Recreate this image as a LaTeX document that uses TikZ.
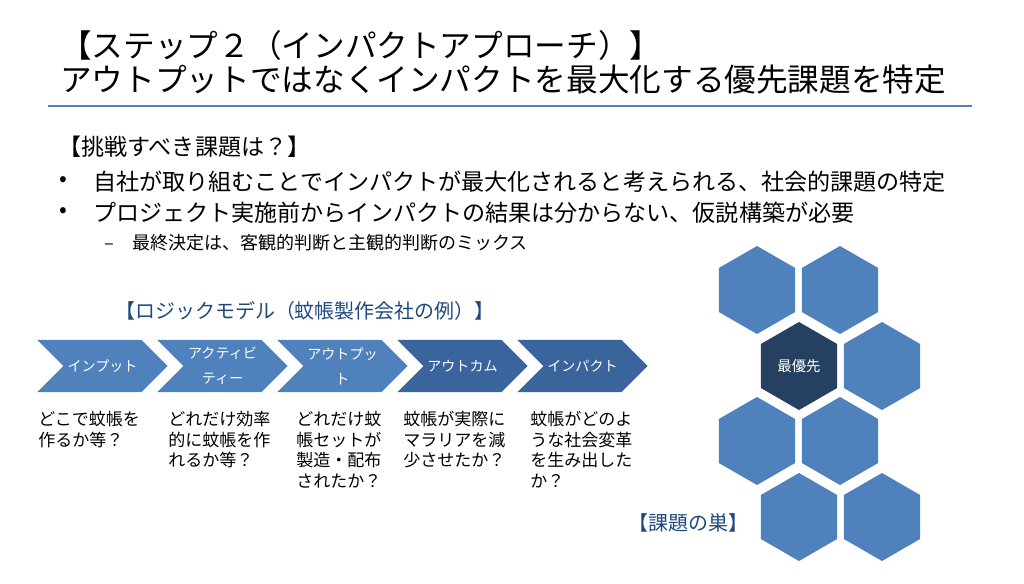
\documentclass[tikz,border=0pt]{standalone}
\usepackage{fontspec}
\setmainfont{Noto Sans CJK JP}
\usepackage{tikz}
\usetikzlibrary{shapes.geometric}
\usetikzlibrary{shapes.symbols}
\usepackage{xcolor}
\definecolor{lightblue}{HTML}{4F81BD}
\definecolor{deepblue}{HTML}{3A659C}
\definecolor{nestblue}{HTML}{254061}
\definecolor{labelblue}{HTML}{1F497D}

\tikzset{
  titletext/.style={anchor=west, inner sep=0pt, font=\fontsize{22.5}{27}\selectfont},
  bodytext/.style={anchor=west, inner sep=0pt, font=\fontsize{16.4}{20}\selectfont},
  subtext/.style={anchor=west, inner sep=0pt, font=\fontsize{12.8}{16}\selectfont},
  bluelabel/.style={anchor=west, inner sep=0pt, text=labelblue, font=\fontsize{14.2}{17}\selectfont},
  chevbox/.style={signal, signal to=east, signal from=west, signal pointer angle=90,
    fill=lightblue, draw=none, minimum width=3.25cm, minimum height=1.3cm, inner sep=0pt,
    text=white, align=center, font=\fontsize{10}{17.8}\selectfont},
  chevdark/.style={chevbox, fill=deepblue},
  hexbox/.style={regular polygon, regular polygon sides=6, shape border rotate=30,
    minimum size=2.2cm, inner sep=0pt, fill=lightblue, draw=none},
  hextop/.style={hexbox, fill=nestblue, text=white, font=\fontsize{10.2}{12}\selectfont},
  notetext/.style={anchor=north west, inner sep=0pt, align=left, font=\fontsize{12.1}{14.6}\selectfont}
}

\begin{document}
\begin{tikzpicture}[x=0.025cm,y=-0.025cm]
\useasboundingbox (0,0) rectangle (1024,584);

% title
\node[titletext] (title1) at (60,45) {【ステップ２（インパクトアプローチ）】};
\node[titletext] (title2) at (60,80) {アウトプットではなくインパクトを最大化する優先課題を特定};
\draw[lightblue, line width=1.4pt] (48,106) -- (972,106);

% bullets
\node[bodytext] (ask) at (58,147) {【挑戦すべき課題は？】};
\node[bodytext, anchor=center] (dot1) at (63,182) {•};
\node[bodytext] (point1) at (93,182) {自社が取り組むことでインパクトが最大化されると考えられる、社会的課題の特定};
\node[bodytext, anchor=center] (dot2) at (63,213) {•};
\node[bodytext] (point2) at (93,213) {プロジェクト実施前からインパクトの結果は分からない、仮説構築が必要};
\node[subtext, anchor=center] (dash1) at (109,247) {–};
\node[subtext] (point3) at (132,243) {最終決定は、客観的判断と主観的判断のミックス};

% logic model
\node[bluelabel] (logic) at (115,311) {【ロジックモデル（蚊帳製作会社の例）】};
\node[chevbox] (input) at (102.5,366) {インプット};
\node[chevbox] (activity) at (222.5,366) {アクティビ\\ティー};
\node[chevbox] (output) at (342.5,366) {アウトプッ\\ト};
\node[chevdark] (outcome) at (462.5,366) {アウトカム};
\node[chevdark] (impact) at (582.5,366) {インパクト};

\node[notetext] (note1) at (38,411) {どこで蚊帳を\\作るか等？};
\node[notetext] (note2) at (168,411) {どれだけ効率\\的に蚊帳を作\\れるか等？};
\node[notetext] (note3) at (296,411) {どれだけ蚊\\帳セットが\\製造・配布\\されたか？};
\node[notetext] (note4) at (403,411) {蚊帳が実際に\\マラリアを減\\少させたか？};
\node[notetext] (note5) at (530,411) {蚊帳がどのよ\\うな社会変革\\を生み出した\\か？};

% nest of issues
\node[hexbox] (hexa) at (757,290) {};
\node[hexbox] (hexb) at (840,290) {};
\node[hextop] (hexc) at (799,366) {最優先};
\node[hexbox] (hexd) at (882,366) {};
\node[hexbox] (hexe) at (757,441) {};
\node[hexbox] (hexf) at (840,441) {};
\node[hexbox] (hexg) at (799,517) {};
\node[hexbox] (hexh) at (882,517) {};
\node[bluelabel] (nest) at (628,523) {【課題の巣】};

\end{tikzpicture}
\end{document}
